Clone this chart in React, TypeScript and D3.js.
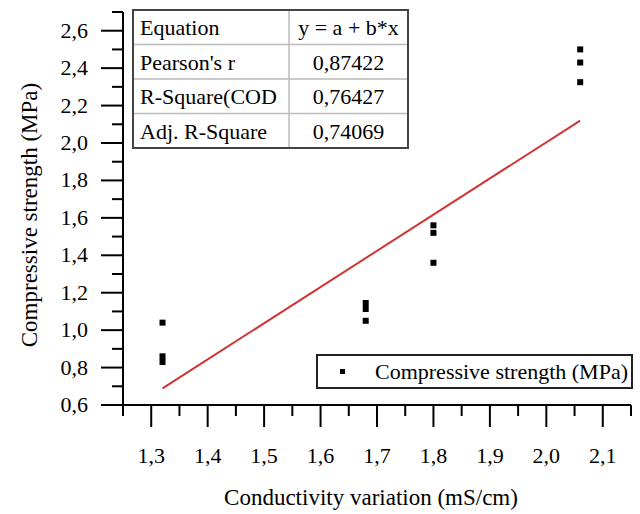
import React from "react";
import * as d3 from "d3";

// measured values
const conductivity = [1.32, 1.32, 1.32, 1.68, 1.68, 1.68, 1.8, 1.8, 1.8, 2.06, 2.06, 2.06];
const strength = [1.04, 0.86, 0.83, 1.145, 1.113, 1.05, 1.56, 1.52, 1.36, 2.5, 2.43, 2.325];

// linear fit y = a + b*x
const fitA = -1.864;
const fitB = 1.934;
const fitRange = [1.32, 2.06];

const statLabels = ["Equation", "Pearson's r", "R-Square(COD", "Adj. R-Square"];
const statValues = ["y = a + b*x", "0,87422", "0,76427", "0,74069"];

const seriesName = "Compressive strength (MPa)";
const xTitle = "Conductivity variation (mS/cm)";
const yTitle = "Compressive strength (MPa)";

const W = 640;
const H = 514;
const font = "Liberation Serif";

const fmt = (v: number) => d3.format(".1f")(v).replace(".", ",");

const T = (props: any) => <text fontFamily={font} style={{ fontFamily: font }} {...props} />;

export default function App() {
  const x = d3.scaleLinear().domain([1.25, 2.15]).range([123, 631]);
  const y = d3.scaleLinear().domain([0.6, 2.7]).range([405, 12]);

  const xMajor = d3.range(1.3, 2.11, 0.1);
  const xMinor = d3.range(1.25, 2.16, 0.1);
  const yMajor = d3.range(0.6, 2.61, 0.2);
  const yMinor = d3.range(0.7, 2.71, 0.2);

  const fitLine = d3
    .line<number>()
    .x((d) => x(d))
    .y((d) => y(fitA + fitB * d));

  // stats table
  const tx0 = 133, tx1 = 289, tx2 = 408, ty0 = 10, rowH = 34.5;

  return (
    <svg width={W} height={H} style={{ position: "absolute", left: 0, top: 0 }}>
      <style>{`text { font-family: "Liberation Serif", serif; }`}</style>

      {/* y axis */}
      <line x1={x(1.25)} x2={x(1.25)} y1={y(2.7)} y2={y(0.6)} stroke="#000" strokeWidth={2} />
      {yMajor.map((v) => (
        <g key={"ym" + v}>
          <line x1={x(1.25) - 22} x2={x(1.25)} y1={y(v)} y2={y(v)} stroke="#000" strokeWidth={2} />
          <T x={88} y={y(v) + 7} textAnchor="end" fontSize={22}>
            {fmt(v)}
          </T>
        </g>
      ))}
      {yMinor.map((v) => (
        <line key={"yn" + v} x1={x(1.25) - 11} x2={x(1.25)} y1={y(v)} y2={y(v)} stroke="#000" strokeWidth={2} />
      ))}

      {/* x axis */}
      <line x1={x(1.25)} x2={x(2.15)} y1={y(0.6)} y2={y(0.6)} stroke="#000" strokeWidth={2} />
      {xMajor.map((v) => (
        <g key={"xm" + v}>
          <line x1={x(v)} x2={x(v)} y1={y(0.6)} y2={y(0.6) + 22} stroke="#000" strokeWidth={2} />
          <T x={x(v)} y={463} textAnchor="middle" fontSize={22}>
            {fmt(v)}
          </T>
        </g>
      ))}
      {xMinor.map((v) => (
        <line key={"xn" + v} x1={x(v)} x2={x(v)} y1={y(0.6)} y2={y(0.6) + 11} stroke="#000" strokeWidth={2} />
      ))}

      {/* titles */}
      <T x={371} y={505} textAnchor="middle" fontSize={23}>
        {xTitle}
      </T>
      <T transform="translate(37,215) rotate(-90)" textAnchor="middle" fontSize={23}>
        {yTitle}
      </T>

      {/* fit line */}
      <path d={fitLine(fitRange) ?? ""} fill="none" stroke="#d03434" strokeWidth={2} />

      {/* points */}
      {conductivity.map((c, i) => (
        <rect key={"p" + i} x={x(c) - 3} y={y(strength[i]) - 3} width={6} height={6} fill="#000" />
      ))}

      {/* stats table */}
      {statLabels.map((lab, i) => (
        <g key={"row" + i}>
          {i > 0 && (
            <line x1={tx0} x2={tx2} y1={ty0 + i * rowH} y2={ty0 + i * rowH} stroke="#bbb" strokeWidth={1.5} />
          )}
          <T x={140} y={ty0 + i * rowH + 25} fontSize={22}>
            {lab}
          </T>
          <T x={(tx1 + tx2) / 2} y={ty0 + i * rowH + 25} fontSize={22} textAnchor="middle">
            {statValues[i]}
          </T>
        </g>
      ))}
      <line x1={tx1} x2={tx1} y1={ty0} y2={ty0 + 4 * rowH} stroke="#bbb" strokeWidth={1.5} />
      <rect x={tx0} y={ty0} width={tx2 - tx0} height={4 * rowH} fill="none" stroke="#444" strokeWidth={2} />

      {/* legend */}
      <rect x={317} y={355} width={315} height={33} fill="#fff" stroke="#222" strokeWidth={2} />
      <rect x={340} y={369} width={5} height={5} fill="#000" />
      <T x={375} y={379} fontSize={22}>
        {seriesName}
      </T>
    </svg>
  );
}
